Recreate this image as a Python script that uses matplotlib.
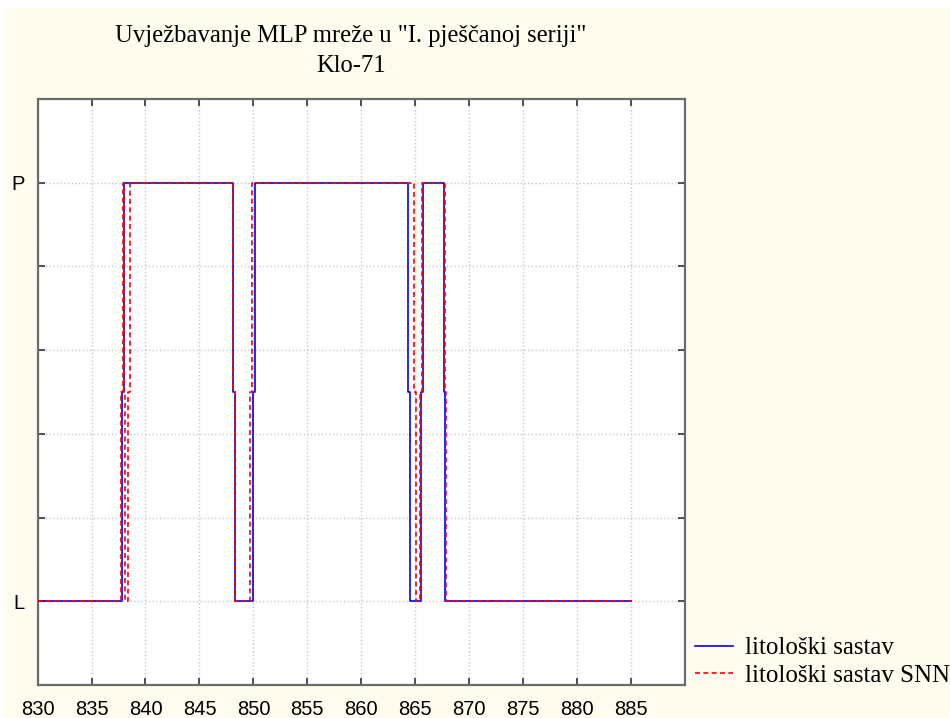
import numpy as np
import matplotlib
matplotlib.use('Agg')
import matplotlib.pyplot as plt
from matplotlib.patches import Rectangle

# podaci -------------------------------------------------------------------
pocetak = 830.0
kraj = 885.0
# dubine na kojima se mijenja litologija (L <-> P), pocinje se od L
lito_prijelazi = [837.9, 848.2, 850.05, 864.4, 865.65, 867.7]
snn_prijelazi = [837.85, 838.05, 838.5, 848.2, 849.8, 864.95, 865.5, 867.8]
x_ticks = [830, 835, 840, 845, 850, 855, 860, 865, 870, 875, 880, 885, 890]
x_labels = ['830', '835', '840', '845', '850', '855', '860', '865', '870', '875', '880', '885', '']
y_ticks = [0, 0.2, 0.4, 0.6, 0.8, 1.0]
y_labels = ['L', '', '', '', '', 'P']


def stepna_linija(prijelazi, v0=0, h=0.08):
    xs = [pocetak]
    ys = [v0]
    v = v0
    for d in prijelazi:
        nv = 1 - v
        xs += [d - h, d - h, d + h, d + h]
        ys += [v, 0.5, 0.5, nv]
        v = nv
    xs.append(kraj)
    ys.append(v)
    return xs, ys


# crtanje ------------------------------------------------------------------
fig = plt.figure(figsize=(9.5, 7.18), dpi=100, facecolor='white')
fig.patches.append(Rectangle((4 / 950, 0), 1, 1 - 8 / 718, transform=fig.transFigure,
                             facecolor='#FFFCEF', edgecolor='none', zorder=-10))

ax = fig.add_axes([37.6 / 950, 1 - 685 / 718, (685 - 37.6) / 950, (685 - 99) / 718])
ax.set_facecolor('white')

x1, y1 = stepna_linija(lito_prijelazi)
x2, y2 = stepna_linija(snn_prijelazi)
ax.plot(x1, y1, color='#0000FF', lw=1.2, label='litološki sastav', zorder=3)
ax.plot(x2, y2, color='#FF0000', lw=1.2, linestyle=(0, (3, 2)), label='litološki sastav SNN', zorder=4)

ax.set_xlim(830, 890)
ax.set_ylim(-0.2, 1.2)
ax.set_xticks(x_ticks)
ax.set_xticklabels(x_labels, family='Liberation Sans', fontsize=14.5)
ax.set_yticks(y_ticks)
ax.set_yticklabels(y_labels, family='Liberation Sans', fontsize=14.5)
ax.tick_params(direction='in', length=5, width=1.2, color='#333333', top=True, right=True)
ax.tick_params(axis='x', pad=11)
ax.tick_params(axis='y', pad=9.5)
ax.grid(True, color='#c8c8c8', linestyle=':', lw=1.0)
for s in ax.spines.values():
    s.set_color('#6b6b6b')
    s.set_linewidth(1.6)

fig.text(351 / 950, 1 - 42 / 718, 'Uvježbavanje MLP mreže u "I. pješčanoj seriji"',
         ha='center', va='baseline', family='Liberation Serif', fontsize=17.7)
fig.text(351 / 950, 1 - 72 / 718, 'Klo-71',
         ha='center', va='baseline', family='Liberation Serif', fontsize=17.7)

fig.legend(loc='upper left', bbox_to_anchor=(695 / 950, 1 - 637 / 718), frameon=False,
           prop={'family': 'Liberation Serif', 'size': 18}, handlelength=1.52, handletextpad=0.48,
           labelspacing=0.2, borderpad=0, borderaxespad=0)

plt.savefig('out.png', dpi=100, facecolor=fig.get_facecolor())
